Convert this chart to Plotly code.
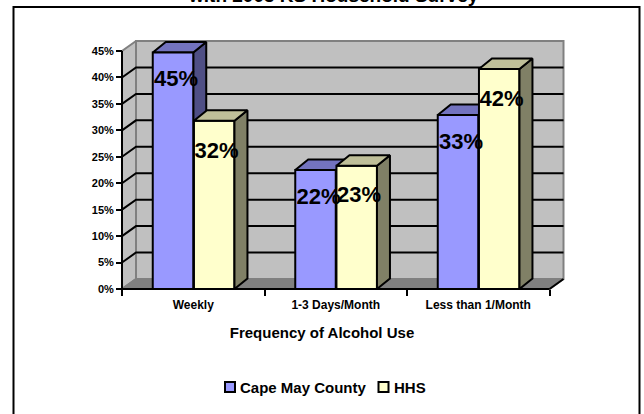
import plotly.graph_objects as go

categories = ["Weekly", "1-3 Days/Month", "Less than 1/Month"]
series_names = ["Cape May County", "HHS"]
series_colors = ["#9999FF", "#FFFFCC"]
cape_may = [44.7, 22.5, 32.9]
hhs = [31.8, 23.3, 41.6]
cape_labels = ["45%", "22%", "33%"]
hhs_labels = ["32%", "23%", "42%"]
y_ticks = [0, 5, 10, 15, 20, 25, 30, 35, 40, 45]
y_tick_labels = ["0%", "5%", "10%", "15%", "20%", "25%", "30%", "35%", "40%", "45%"]

W, H = 644, 414
X0, CAT = 122.0, 142.5
Y0, PCT = 289.0, 238 / 45
xr = [-X0 / CAT, (W - X0) / CAT]
yr = [-(H - Y0) / PCT, Y0 / PCT]

DX = 14 / CAT        # floor depth, in category units
DY = 10 / PCT        # floor depth, in percent units
BW = 40.5 / CAT      # bar width
BDX = 13 / CAT
BDY = 10.5 / PCT
FONT = "Liberation Sans, Arial, sans-serif"
FX1, FY1 = 3.0, 45.0


def poly(xs, ys, fill, line="black", width=2, axes=("x", "y")):
    return go.Scatter(x=xs, y=ys, mode="lines", fill="toself", fillcolor=fill,
                      line=dict(color=line, width=width), hoverinfo="skip",
                      showlegend=False, xaxis=axes[0], yaxis=axes[1])


def seg(xs, ys, color="black", width=2, axes=("x", "y")):
    return go.Scatter(x=xs, y=ys, mode="lines", line=dict(color=color, width=width),
                      hoverinfo="skip", showlegend=False, xaxis=axes[0], yaxis=axes[1])


TOP = ("x2", "y2")
fig = go.Figure()

# walls and floor
fig.add_trace(poly([DX, FX1 + DX, FX1 + DX, DX, DX], [DY, DY, FY1 + DY, FY1 + DY, DY], "#C0C0C0", "#808080"))
fig.add_trace(poly([0, DX, DX, 0, 0], [0, DY, FY1 + DY, FY1, 0], "#C0C0C0", "#808080"))
fig.add_trace(poly([0, FX1, FX1 + DX, DX, 0], [0, 0, DY, DY, 0], "#808080", "#808080"))

# gridlines
for v in y_ticks[1:-1]:
    fig.add_trace(seg([0, DX, FX1 + DX], [v, v + DY, v + DY]))

centers = [i + 0.5 for i in range(3)]

# first series, side and top faces (under every front face)
for i, c in enumerate(centers):
    left, val = c - BW, cape_may[i]
    r = left + BW
    fig.add_trace(poly([r, r + BDX, r + BDX, r, r], [0, BDY, val + BDY, val, 0], "#4F4F85"))
    fig.add_trace(poly([left, r, r + BDX, left + BDX, left],
                       [val, val, val + BDY, val + BDY, val], "#7373BF"))

# front faces on the overlaid subplot
fig.add_trace(go.Bar(x=centers, y=cape_may, name=series_names[0], width=BW, offset=-BW,
                     xaxis="x2", yaxis="y2", showlegend=False,
                     marker=dict(color=series_colors[0], line=dict(color="black", width=2))))
fig.add_trace(go.Bar(x=centers, y=hhs, name=series_names[1], width=BW, offset=0.005,
                     xaxis="x2", yaxis="y2", showlegend=False,
                     marker=dict(color=series_colors[1], line=dict(color="black", width=2))))

# second series, side and top faces
for i, c in enumerate(centers):
    left, val = c + 0.005, hhs[i]
    r = left + BW
    fig.add_trace(poly([r, r + BDX, r + BDX, r, r], [0, BDY, val + BDY, val, 0], "#808066", axes=TOP))
    fig.add_trace(poly([left, r, r + BDX, left + BDX, left],
                       [val, val, val + BDY, val + BDY, val], "#BFBF99", axes=TOP))

# axis lines
fig.add_trace(seg([0, 0], [0, FY1], axes=TOP))
fig.add_trace(seg([0, FX1], [0, 0], axes=TOP))
fig.add_trace(seg([FX1, FX1 + DX], [0, DY], axes=TOP))

# data labels
fig.add_trace(go.Scatter(
    x=[c - BW / 2 + 0.021 for c in centers] + [c + BW / 2 + 0.021 for c in centers],
    y=[v - 5.3 for v in cape_may] + [v - 5.9 for v in hhs],
    mode="text", text=cape_labels + hhs_labels, textposition="middle center",
    textfont=dict(family=FONT, size=22, color="black", weight="bold"),
    hoverinfo="skip", showlegend=False, xaxis="x2", yaxis="y2"))

# legend drawn to the reference's tight swatch/text spacing
legend_swatch_left = [224, 377.5]
legend_text_left = [239, 393]
shapes = [dict(type="rect", xref="paper", yref="paper", x0=13.5 / W, x1=639.5 / W,
               y0=-0.05, y1=(H - 7) / H, line=dict(color="black", width=2), layer="below")]
annotations = [dict(text="<b>with 2003 KS Household Survey</b>", xref="paper", yref="paper",
                    x=333.5 / W, y=(H - 8) / H, xanchor="center", yanchor="bottom", showarrow=False,
                    font=dict(size=19, family=FONT))]
for name, color, sx, tx in zip(series_names, series_colors, legend_swatch_left, legend_text_left):
    shapes.append(dict(type="rect", xref="paper", yref="paper", x0=(sx + 1) / W, x1=(sx + 11) / W,
                       y0=(H - 392) / H, y1=(H - 382) / H, fillcolor=color,
                       line=dict(color="black", width=2)))
    annotations.append(dict(text=f"<b>{name}</b>", xref="paper", yref="paper", x=tx / W,
                            y=(H - 387) / H, xanchor="left", yanchor="middle", showarrow=False,
                            borderpad=0, font=dict(size=15, family=FONT)))

fig.update_layout(
    width=W, height=H, margin=dict(l=0, r=0, t=0, b=0), autosize=False,
    paper_bgcolor="white", plot_bgcolor="rgba(0,0,0,0)", barmode="overlay",
    font=dict(family=FONT, color="black"), showlegend=False,
    xaxis=dict(range=xr, domain=[0, 1], anchor="free", position=(H - Y0) / H,
               tickmode="array", tickvals=centers, ticktext=[f"<b>{c}</b>" for c in categories],
               ticklen=0, ticklabelstandoff=7, tickfont=dict(size=12, family=FONT),
               showgrid=False, zeroline=False,
               minor=dict(tick0=0, dtick=1, ticks="outside", ticklen=6, tickwidth=2, tickcolor="black", showgrid=False),
               title=dict(text="<b>Frequency of Alcohol Use</b>", font=dict(size=15, family=FONT), standoff=16)),
    yaxis=dict(range=yr, domain=[0, 1], anchor="free", position=X0 / W,
               tickmode="array", tickvals=y_ticks, ticktext=[f"<b>{t}</b>" for t in y_tick_labels],
               ticks="outside", ticklen=6, tickwidth=2, tickcolor="black",
               tickfont=dict(size=11, family=FONT), showgrid=False, zeroline=False),
    xaxis2=dict(range=xr, overlaying="x", visible=False, anchor="y2"),
    yaxis2=dict(range=yr, overlaying="y", visible=False, anchor="x2"),
    shapes=shapes,
    annotations=annotations,
)
fig.write_html("out.html", config={"displayModeBar": False},
               post_script="document.body.style.margin='0';document.body.style.overflow='hidden';")
